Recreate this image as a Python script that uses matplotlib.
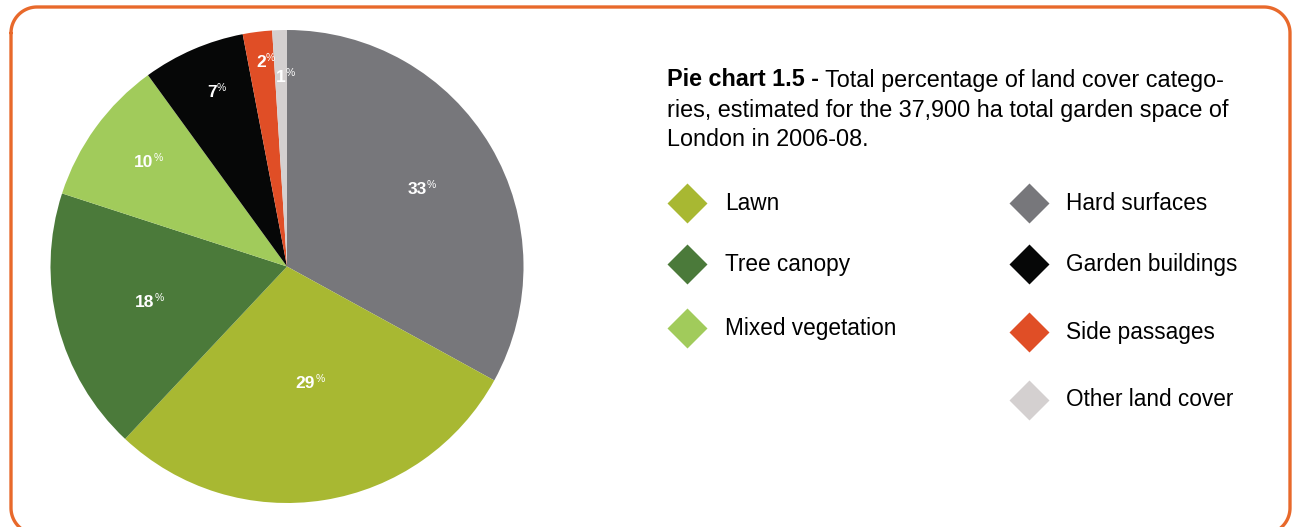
import matplotlib.pyplot as plt
import numpy as np

plt.rcParams['font.family'] = ['Liberation Sans', 'DejaVu Sans']

# === データ ===
categories = ['Hard surfaces', 'Lawn', 'Tree canopy', 'Mixed vegetation',
              'Garden buildings', 'Side passages', 'Other land cover']
values = [33, 29, 18, 10, 7, 2, 1]
colors = ['#77777b', '#a8b832', '#4b7a3a', '#a1cb5b', '#060707', '#e04e26', '#d4d0d0']
label_radius = [0.64, 0.50, 0.62, 0.75, 0.80, 0.87, 0.80]

legend_left = ['Lawn', 'Tree canopy', 'Mixed vegetation']
legend_right = ['Hard surfaces', 'Garden buildings', 'Side passages', 'Other land cover']

W, H = 1293, 527
fs = 16.3
fs_title = 16.8
fig = plt.figure(figsize=(W / 100, H / 100), dpi=100)
fig.patch.set_facecolor('white')

# === 枠 (角丸) ===
bg = fig.add_axes([0, 0, 1, 1])
bg.set_xlim(0, W)
bg.set_ylim(H, 0)
bg.axis('off')
x0, x1, y0, y1, rr = 11, 1290, 7, 534, 26
t = np.linspace(0, np.pi / 2, 30)
fx = np.concatenate([x0 + rr - rr * np.cos(t), x1 - rr + rr * np.sin(t),
                     x1 - rr + rr * np.cos(t), x0 + rr - rr * np.sin(t), [x0]])
fy = np.concatenate([y0 + rr - rr * np.sin(t), y0 + rr - rr * np.cos(t),
                     y1 - rr + rr * np.sin(t), y1 - rr + rr * np.cos(t), [y0 + rr]])
bg.plot(fx, fy, color='#e8692b', lw=2.4, solid_capstyle='round')

# === 円グラフ ===
ax = fig.add_axes([50.5 / W, 1 - 503 / H, 473 / W, 473 / H])
wedges, _ = ax.pie(values, colors=colors, startangle=90, counterclock=False,
                   radius=1, wedgeprops=dict(linewidth=0))
ax.set_xlim(-1, 1)
ax.set_ylim(-1, 1)
ax.set_aspect('equal')

for w, v, r in zip(wedges, values, label_radius):
    ang = np.deg2rad((w.theta1 + w.theta2) / 2)
    txt = ax.text(r * np.cos(ang), r * np.sin(ang), f"{v}", ha='center', va='center',
                  fontsize=12.5, color='white', weight='bold')
    ax.annotate('%', xy=(1, 1), xycoords=txt, xytext=(0, 1.5), textcoords='offset points',
                ha='left', va='top', fontsize=7.5, color='white')

# === タイトル ===
b = bg.text(667, 80, 'Pie chart 1.5 -', fontsize=fs_title, weight='bold', ha='left', va='center')
bg.annotate(' Total percentage of land cover catego-', xy=(1, 0), xycoords=b,
            ha='left', va='bottom', fontsize=fs_title)
bg.text(667, 110, 'ries, estimated for the 37,900 ha total garden space of',
        fontsize=fs_title, ha='left', va='center')
bg.text(667, 139, 'London in 2006-08.', fontsize=fs_title, ha='left', va='center')

# === 凡例 ===
cmap = dict(zip(categories, colors))
for name, y in zip(legend_left, [203, 264, 328]):
    bg.plot(687, y, marker='D', ms=20, color=cmap[name], mec='none')
    bg.text(725, y, name, fontsize=fs, ha='left', va='center')
for name, y in zip(legend_right, [203, 264, 332, 400]):
    bg.plot(1029, y, marker='D', ms=20, color=cmap[name], mec='none')
    bg.text(1066, y, name, fontsize=fs, ha='left', va='center')

plt.savefig('out.png', dpi=100, facecolor='white')
